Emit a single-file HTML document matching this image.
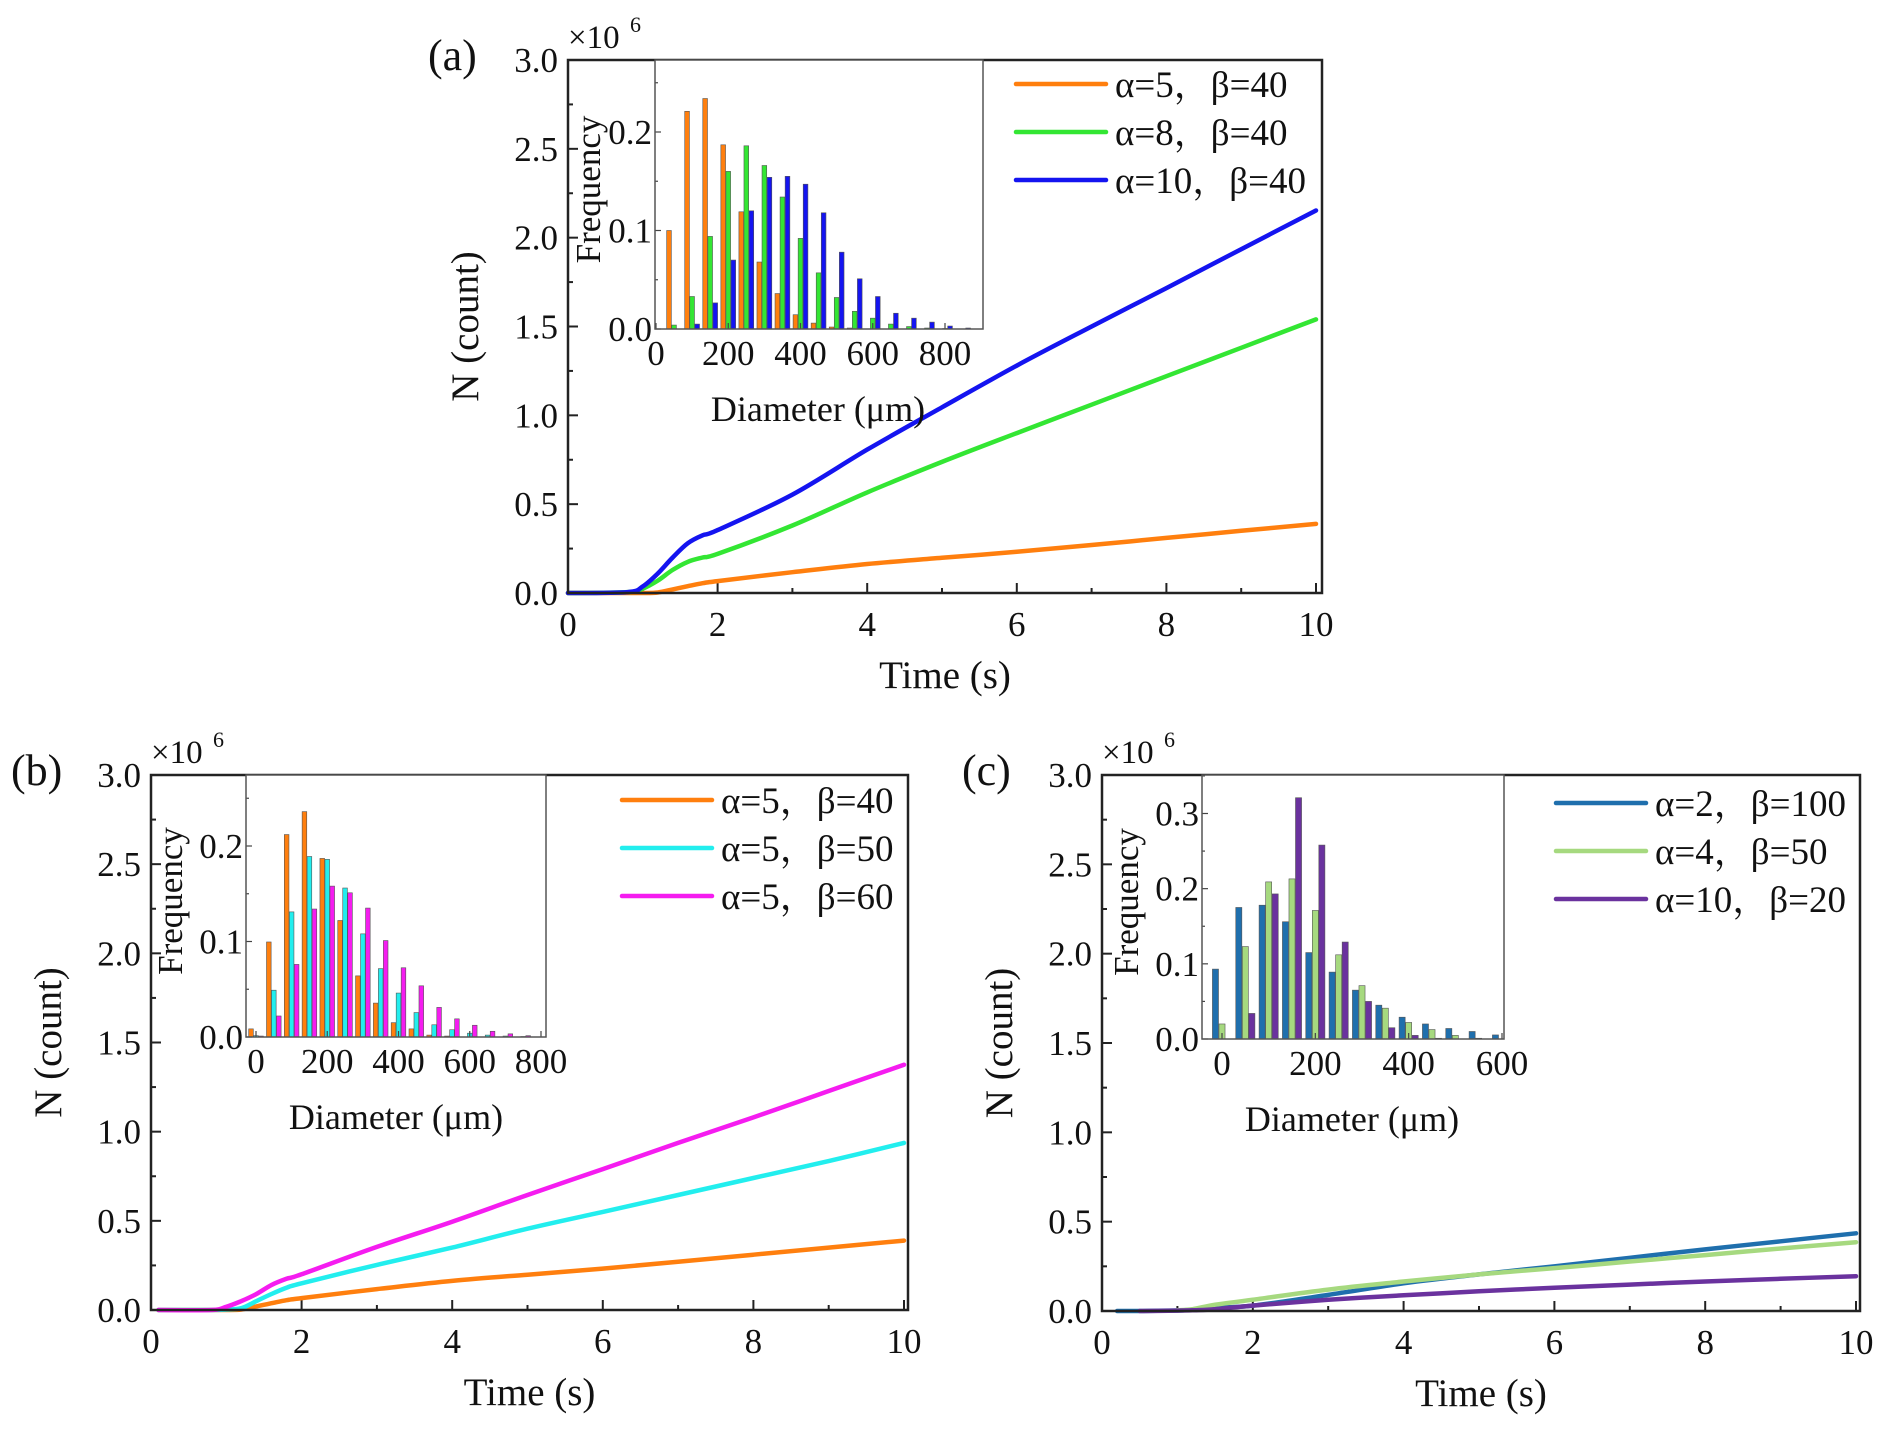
<!DOCTYPE html>
<html><head><meta charset="utf-8">
<style>
html,body{margin:0;padding:0;background:#fff;}
svg{display:block;}
text{font-family:"Liberation Serif","Noto Serif CJK SC",serif;fill:#111;}
</style></head>
<body>
<svg id="fig" width="1892" height="1434" viewBox="0 0 1892 1434" xmlns="http://www.w3.org/2000/svg"></svg>
<script>
// ---------- data ----------
const timeA = [0, 0.8, 1.0, 1.2, 1.4, 1.6, 1.8, 2, 3, 4, 5, 6, 7, 8, 9, 10];
const aOrange = [0, 0, 0, 0.003, 0.02, 0.038, 0.055, 0.067, 0.117, 0.163, 0.198, 0.232, 0.27, 0.31, 0.35, 0.389];
const aGreen = [0, 0.005, 0.025, 0.07, 0.13, 0.175, 0.2, 0.22, 0.38, 0.566, 0.738, 0.9, 1.06, 1.22, 1.38, 1.54];
const aBlue = [0, 0.005, 0.037, 0.11, 0.2, 0.28, 0.325, 0.354, 0.554, 0.807, 1.045, 1.28, 1.50, 1.716, 1.935, 2.153];

const timeB = [0.1, 0.8, 1.0, 1.2, 1.4, 1.6, 1.8, 2, 3, 4, 5, 6, 7, 8, 9, 10];
const bOrange = [0, 0, 0, 0.003, 0.02, 0.038, 0.055, 0.067, 0.117, 0.163, 0.198, 0.232, 0.27, 0.31, 0.35, 0.389];
const bCyan = [0, 0, 0.003, 0.01, 0.05, 0.09, 0.125, 0.15, 0.253, 0.35, 0.456, 0.55, 0.645, 0.74, 0.835, 0.937];
const bMagenta = [0, 0, 0.018, 0.05, 0.09, 0.14, 0.175, 0.2, 0.354, 0.495, 0.645, 0.79, 0.937, 1.08, 1.228, 1.375];

const timeC = [0.2, 0.5, 1.0, 1.2, 1.5, 2, 3, 4, 5, 6, 7, 8, 9, 10];
const cBlue = [0, 0, 0.003, 0.008, 0.018, 0.03, 0.09, 0.155, 0.205, 0.25, 0.298, 0.345, 0.39, 0.435];
const cGreen = [null, null, 0.004, 0.01, 0.035, 0.063, 0.12, 0.165, 0.205, 0.24, 0.277, 0.313, 0.35, 0.385];
const cPurple = [null, 0, 0.002, 0.004, 0.01, 0.03, 0.063, 0.088, 0.11, 0.13, 0.148, 0.165, 0.18, 0.195];

const binsA = [50,100,150,200,250,300,350,400,450,500,550,600,650,700,750,800,850];
const histAOrange = [0.10,0.221,0.234,0.187,0.119,0.068,0.036,0.0145,0.006,0.002,0.001,0,0,0,0,0,0];
const histAGreen = [0.004,0.033,0.094,0.160,0.186,0.166,0.134,0.092,0.057,0.032,0.018,0.011,0.005,0.0025,0.001,0.0005,0];
const histABlue = [0,0.005,0.0265,0.070,0.120,0.154,0.155,0.147,0.118,0.078,0.051,0.033,0.016,0.011,0.007,0.003,0.001];

const binsB = [0,50,100,150,200,250,300,350,400,450,500,550,600,650,700,750];
const histBOrange = [0.0085,0.0995,0.212,0.236,0.187,0.122,0.064,0.0355,0.015,0.0085,0.002,0.001,0,0,0,0];
const histBCyan = [0.0014,0.049,0.131,0.189,0.186,0.156,0.108,0.0716,0.046,0.0256,0.0128,0.0076,0.004,0.002,0.001,0.0005];
const histBMagenta = [0.001,0.022,0.076,0.134,0.158,0.151,0.135,0.101,0.0725,0.0536,0.031,0.019,0.0123,0.006,0.0033,0.0014];

const binsC = [0,50,100,150,200,250,300,350,400,450,500,550,600];
const histCBlue = [0.093,0.175,0.178,0.156,0.115,0.089,0.065,0.045,0.029,0.020,0.014,0.010,0.0054];
const histCGreen = [0.020,0.123,0.209,0.213,0.171,0.112,0.071,0.041,0.022,0.0126,0.0048,0.001,0];
const histCPurple = [0,0.034,0.193,0.321,0.258,0.129,0.050,0.015,0.0048,0.001,0,0,0];

const mainTicksX = ["0","2","4","6","8","10"];
const mainTicksY = ["0.0","0.5","1.0","1.5","2.0","2.5","3.0"];

// ---------- drawing helpers ----------
const NS = "http://www.w3.org/2000/svg";
const svg = document.getElementById("fig");
function mk(tag, attrs, parent) {
  const e = document.createElementNS(NS, tag);
  for (const k in attrs) e.setAttribute(k, attrs[k]);
  (parent || svg).appendChild(e);
  return e;
}
function txt(s, x, y, size, anchor, parent, extra) {
  const t = mk("text", Object.assign({x: x, y: y, "font-size": size, "text-anchor": anchor || "middle"}, extra || {}), parent);
  t.textContent = s;
  return t;
}
function scale(d0, d1, r0, r1) { return v => r0 + (v - d0) / (d1 - d0) * (r1 - r0); }
function smoothPath(pts) {
  if (!pts.length) return "";
  let d = "M" + pts[0][0].toFixed(1) + "," + pts[0][1].toFixed(1);
  for (let i = 0; i < pts.length - 1; i++) {
    const p0 = pts[Math.max(0, i - 1)], p1 = pts[i], p2 = pts[i + 1], p3 = pts[Math.min(pts.length - 1, i + 2)];
    const c1x = p1[0] + (p2[0] - p0[0]) / 6, c1y = p1[1] + (p2[1] - p0[1]) / 6;
    const c2x = p2[0] - (p3[0] - p1[0]) / 6, c2y = p2[1] - (p3[1] - p1[1]) / 6;
    d += "C" + c1x.toFixed(1) + "," + c1y.toFixed(1) + " " + c2x.toFixed(1) + "," + c2y.toFixed(1) + " " + p2[0].toFixed(1) + "," + p2[1].toFixed(1);
  }
  return d;
}

function drawMain(g, geo, series, legend, label) {
  const X = scale(0, 10, geo.l, geo.x10);
  const Y = scale(0, 3, geo.b, geo.t);
  mainTicksX.forEach((s, i) => {
    const v = i * 2, px = X(v);
    mk("line", {x1: px, x2: px, y1: geo.b, y2: geo.b - 10, stroke: "#222", "stroke-width": 2}, g);
    txt(s, px, geo.b + 43, 35, "middle", g);
    if (v < 10) { const pm = X(v + 1); mk("line", {x1: pm, x2: pm, y1: geo.b, y2: geo.b - 5, stroke: "#222", "stroke-width": 2}, g); }
  });
  mainTicksY.forEach((s, i) => {
    const v = i * 0.5, py = Y(v);
    mk("line", {x1: geo.l, x2: geo.l + 10, y1: py, y2: py, stroke: "#222", "stroke-width": 2}, g);
    txt(s, geo.l - 10, py + 12, 35, "end", g);
    if (v < 3) { const pm = Y(v + 0.25); mk("line", {x1: geo.l, x2: geo.l + 5, y1: pm, y2: pm, stroke: "#222", "stroke-width": 2}, g); }
  });
  series.forEach(s => {
    const pts = [];
    s.t.forEach((t, i) => { if (s.v[i] !== null) pts.push([X(t), Y(s.v[i])]); });
    const p = mk("path", {d: smoothPath(pts), fill: "none", stroke: s.c, "stroke-width": 4.5, "stroke-linejoin": "round", "stroke-linecap": "round"}, g);
    
    
  });
  mk("rect", {x: geo.l, y: geo.t, width: geo.r - geo.l, height: geo.b - geo.t, fill: "none", stroke: "#222", "stroke-width": 2.5}, g);
  const ex = txt("×10", geo.l, geo.t - 12, 33, "start", g);
  
  
  txt("6", geo.l + 62, geo.t - 28, 22, "start", g);
  const xt = txt("Time (s)", (geo.l + geo.r) / 2, geo.b + 95, 39, "middle", g);
  
  
  const yt = txt("N (count)", 0, 0, 39, "middle", g, {transform: "translate(" + (geo.l - 90) + "," + ((geo.t + geo.b) / 2) + ") rotate(-90)"});
  
  
  const pl = txt(label, geo.l - 140, geo.t + 10, 44, "start", g);
  
  
  legend.items.forEach((it, i) => {
    const y = legend.y + i * legend.dy;
    const lg = mk("g", {}, g);
    
    
    mk("line", {x1: legend.x, x2: legend.x + 90, y1: y, y2: y, stroke: it.c, "stroke-width": 4.5, "stroke-linecap": "round"}, lg);
    txt(it.s, legend.x + 99, y + 13, 37, "start", lg, {"xml:space": "preserve"});
  });
}

function drawInset(g, geo, bins, hs, cols, xticks, yticks, yStep) {
  const X = scale(0, geo.xd, geo.x0, geo.x1);
  const Y = scale(0, geo.yd, geo.b, geo.yt);
  mk("rect", {x: geo.l, y: geo.t, width: geo.r - geo.l, height: geo.b - geo.t, fill: "#fff", stroke: "none"}, g);
  const bw = 13, off = 14;
  hs.forEach((h, si) => {
    bins.forEach((c, i) => {
      const v = h[i]; if (!v) return;
      const x0 = X(c + (si - 1) * off - bw / 2), x1 = X(c + (si - 1) * off + bw / 2);
      const r = mk("rect", {x: x0, y: Y(v), width: x1 - x0, height: geo.b - Y(v), fill: cols[si], stroke: "#555", "stroke-width": 0.6}, g);
      
      
    });
  });
  xticks.forEach(v => {
    const px = X(v);
    mk("line", {x1: px, x2: px, y1: geo.b, y2: geo.b - 6, stroke: "#444", "stroke-width": 1.2}, g);
    txt(String(v), px, geo.b + 36, 35, "middle", g);
  });
  yticks.forEach((s, i) => {
    const v = i * yStep, py = Y(v);
    mk("line", {x1: geo.l, x2: geo.l + 6, y1: py, y2: py, stroke: "#444", "stroke-width": 1.2}, g);
    txt(s, geo.l - 3, py + 12, 35, "end", g);
    const pm = Y(v + yStep / 2);
    if (pm > geo.t) mk("line", {x1: geo.l, x2: geo.l + 3, y1: pm, y2: pm, stroke: "#444", "stroke-width": 1.2}, g);
  });
  mk("rect", {x: geo.l, y: geo.t, width: geo.r - geo.l, height: geo.b - geo.t, fill: "none", stroke: "#555", "stroke-width": 1.5}, g);
  const ft = txt("Frequency", 0, 0, 35, "middle", g, {transform: "translate(" + geo.fx + "," + ((geo.t + geo.b) / 2 - 5) + ") rotate(-90)"});
  
  
  const dt = txt("Diameter (μm)", geo.dx, geo.b + 92, 36, "middle", g);
  
  
}

// ---------- panel (a) ----------
const gA = mk("g", {});  
drawMain(gA, {l: 568, r: 1322, x10: 1316, t: 60, b: 593},
  [{t: timeA, v: aOrange, c: "#ff7f0e", name: "curve-a5-b40"},
   {t: timeA, v: aGreen, c: "#33e633", name: "curve-a8-b40"},
   {t: timeA, v: aBlue, c: "#1414f0", name: "curve-a10-b40"}],
  {x: 1016, y: 84, dy: 48, items: [{s: "α=5，β=40", c: "#ff7f0e"}, {s: "α=8，β=40", c: "#33e633"}, {s: "α=10，β=40", c: "#1414f0"}]}, "(a)");
const iA = mk("g", {}, gA);  
drawInset(iA, {l: 655, r: 983, t: 60, b: 329, x0: 656, x1: 945, xd: 800, yt: 132, yd: 0.2, fx: 600, dx: 818},
  binsA, [histAOrange, histAGreen, histABlue], ["#ff7f0e", "#33e633", "#1414f0"], [0, 200, 400, 600, 800], ["0.0", "0.1", "0.2"], 0.1);

// ---------- panel (b) ----------
const gB = mk("g", {});  
drawMain(gB, {l: 151, r: 908, x10: 904, t: 775, b: 1310},
  [{t: timeB, v: bOrange, c: "#ff7f0e", name: "curve-a5-b40"},
   {t: timeB, v: bCyan, c: "#22eeee", name: "curve-a5-b50"},
   {t: timeB, v: bMagenta, c: "#f51cf0", name: "curve-a5-b60"}],
  {x: 622, y: 800, dy: 48, items: [{s: "α=5，β=40", c: "#ff7f0e"}, {s: "α=5，β=50", c: "#22eeee"}, {s: "α=5，β=60", c: "#f51cf0"}]}, "(b)");
const iB = mk("g", {}, gB);  
drawInset(iB, {l: 246, r: 546, t: 775, b: 1037, x0: 256, x1: 541, xd: 800, yt: 846, yd: 0.2, fx: 182, dx: 396},
  binsB, [histBOrange, histBCyan, histBMagenta], ["#ff7f0e", "#22eeee", "#f51cf0"], [0, 200, 400, 600, 800], ["0.0", "0.1", "0.2"], 0.1);

// ---------- panel (c) ----------
const gC = mk("g", {});  
drawMain(gC, {l: 1102, r: 1860, x10: 1856, t: 775, b: 1311},
  [{t: timeC, v: cBlue, c: "#1f6fad", name: "curve-a2-b100"},
   {t: timeC, v: cGreen, c: "#a6d97f", name: "curve-a4-b50"},
   {t: timeC, v: cPurple, c: "#6a329e", name: "curve-a10-b20"}],
  {x: 1556, y: 803, dy: 48, items: [{s: "α=2，β=100", c: "#1f6fad"}, {s: "α=4，β=50", c: "#a6d97f"}, {s: "α=10，β=20", c: "#6a329e"}]}, "(c)");
const iC = mk("g", {}, gC);  
drawInset(iC, {l: 1202, r: 1504, t: 775, b: 1039, x0: 1222, x1: 1502, xd: 600, yt: 813.5, yd: 0.3, fx: 1138, dx: 1352},
  binsC, [histCBlue, histCGreen, histCPurple], ["#1f6fad", "#a6d97f", "#6a329e"], [0, 200, 400, 600], ["0.0", "0.1", "0.2", "0.3"], 0.1);
</script>
</body></html>
